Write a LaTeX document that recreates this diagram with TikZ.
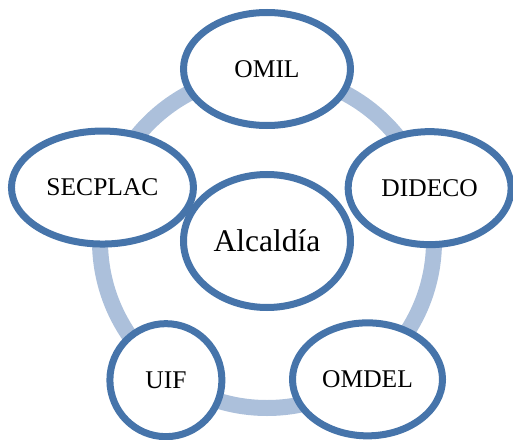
\documentclass[tikz,border=0pt]{standalone}
\usepackage{fontspec}
\setmainfont{Liberation Serif}
\usepackage{xcolor}
\usetikzlibrary{shapes.geometric,shadows,positioning}
\definecolor{rand}{RGB}{70,116,170}
\definecolor{kreis}{RGB}{172,192,219}

\begin{document}
\begin{tikzpicture}[x=1pt,y=1pt]

		\tikzset{%
			unidad/.style = {draw=rand, line width=7pt, fill=white, ellipse, inner sep=0pt,
				minimum height=113pt, font=\fontsize{25.5}{30}\selectfont,
				drop shadow={opacity=0.18, shadow xshift=1.5pt, shadow yshift=-3pt}}, % Einheit
			ring/.style   = {draw=kreis, line width=16pt} % Ring
		}

		\useasboundingbox (-267pt,-198pt) rectangle (246pt,241pt);
		\draw[ring] (0,0) circle (167pt);

		\node[unidad, minimum width=167pt, minimum height=133pt, font=\fontsize{31.5}{36}\selectfont] (alcaldia) at (0,0) {Alcaldía};	% Mitte
		\node[unidad, minimum width=167pt] (omil) at (90:172pt) {OMIL};
		\node[unidad, minimum width=163pt] (dideco) at (18:171pt) {DIDECO};
		\node[unidad, minimum width=150pt] (omdel) at (-54:171pt) {OMDEL};
		\node[unidad, minimum width=112pt] (uif) at (-126:172pt) {UIF};
		\node[unidad, minimum width=182pt] (secplac) at (162:173pt) {SECPLAC};
		\end{tikzpicture}
\end{document}
